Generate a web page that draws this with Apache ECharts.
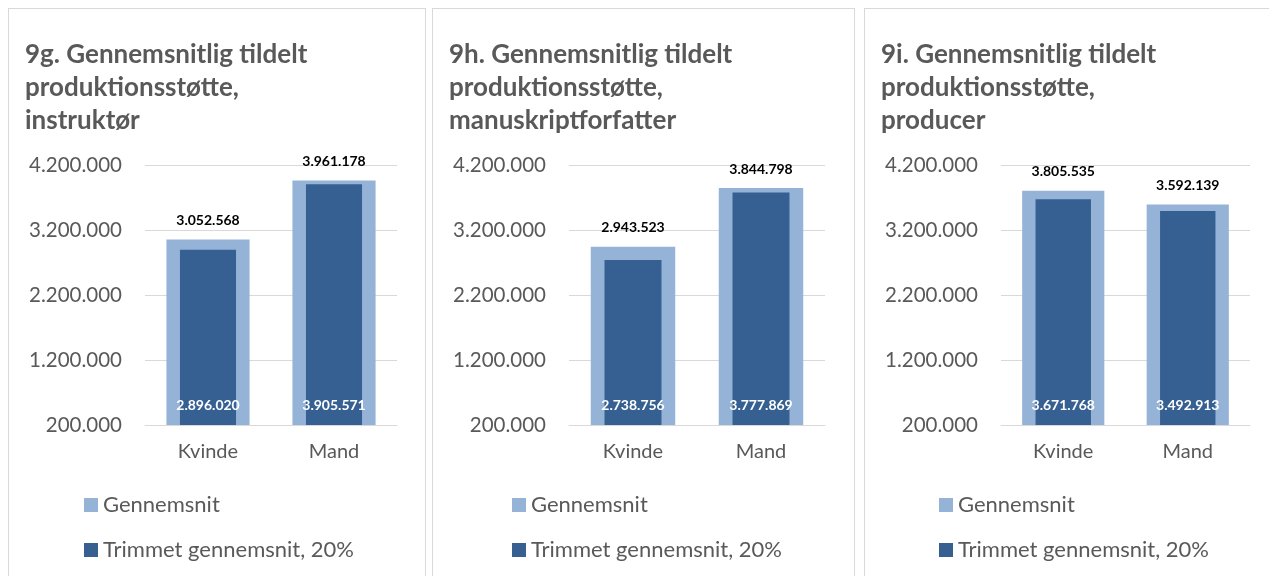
<!DOCTYPE html>
<html>
<head>
<meta charset="utf-8">
<title>Gennemsnitlig tildelt produktionsstøtte</title>
<script src="https://cdn.jsdelivr.net/npm/echarts@6/dist/echarts.min.js"></script>
<style>
    html, body {
        margin: 0;
        padding: 0;
        background: #fff;
        overflow: hidden;
    }
    .panel {
        position: absolute;
        top: 8px;
        height: 600px;
        border: 1px solid #d9d9d9;
        background: #fff;
    }
    .panel div.chart {
        width: 100%;
        height: 100%;
    }
</style>
</head>
<body>
<div class="panel" style="left: 8px; width: 416px;"><div class="chart" id="chartG"></div></div>
<div class="panel" style="left: 432px; width: 421px;"><div class="chart" id="chartH"></div></div>
<div class="panel" style="left: 864px; width: 418px;"><div class="chart" id="chartI"></div></div>

<script>
// data
const categories = ['Kvinde', 'Mand'];
const seriesNames = ['Gennemsnit', 'Trimmet gennemsnit, 20%'];

const titleG = '9g. Gennemsnitlig tildelt\nproduktionsstøtte,\ninstruktør';
const titleH = '9h. Gennemsnitlig tildelt\nproduktionsstøtte,\nmanuskriptforfatter';
const titleI = '9i. Gennemsnitlig tildelt\nproduktionsstøtte,\nproducer';

const gennemsnitG = [3052568, 3961178];
const trimmetG = [2896020, 3905571];
const gennemsnitH = [2943523, 3844798];
const trimmetH = [2738756, 3777869];
const gennemsnitI = [3805535, 3592139];
const trimmetI = [3671768, 3492913];

// y axis: 200.000 .. 4.200.000
const yMin = 200000;
const yMax = 4200000;
const yStep = 1000000;

const FONT = 'Lato';
const GREY = '#595959';
const LIGHT = '#95b3d7';
const DARK = '#366092';

// danish thousands separator
function fmt(v) {
    return String(Math.round(v)).replace(/\B(?=(\d{3})+(?!\d))/g, '.');
}

function drawPanel(id, title, avg, trim, gridWidth, legendLeft) {
    let chart = echarts.init(document.getElementById(id));
    let option = {
        animation: false,
        title: {
            text: title,
            left: 16,
            top: 29,
            padding: 0,
            textStyle: {
                fontFamily: FONT,
                fontWeight: 'bold',
                fontSize: 26,
                lineHeight: 33,
                color: GREY,
            },
        },
        legend: {
            orient: 'vertical',
            left: legendLeft,
            top: 485,
            padding: 0,
            itemWidth: 14,
            itemHeight: 14,
            itemGap: 23,
            icon: 'rect',
            data: seriesNames,
            textStyle: {
                fontFamily: FONT,
                fontSize: 22,
                color: GREY,
            },
        },
        grid: {
            left: 136,
            top: 156,
            width: gridWidth,
            height: 260,
        },
        xAxis: [
            {
                type: 'category',
                data: categories,
                axisTick: { show: false },
                axisLine: { lineStyle: { color: '#d9d9d9', width: 1 } },
                axisLabel: {
                    margin: 17,
                    fontFamily: FONT,
                    fontSize: 20,
                    color: GREY,
                },
            },
            {
                // second axis so the inner bar can be narrower than the outer one
                type: 'category',
                data: categories,
                show: false,
            },
        ],
        yAxis: {
            type: 'value',
            min: yMin,
            max: yMax,
            interval: yStep,
            startValue: yMin,
            axisLine: { show: false },
            axisTick: { show: false },
            splitLine: { lineStyle: { color: '#d9d9d9', width: 1 } },
            axisLabel: {
                margin: 23,
                fontFamily: FONT,
                fontSize: 20.5,
                color: GREY,
                formatter: fmt,
            },
        },
        series: [
            {
                name: seriesNames[0],
                type: 'bar',
                xAxisIndex: 0,
                barWidth: '66%',
                data: avg,
                itemStyle: { color: LIGHT },
                label: {
                    show: true,
                    position: 'top',
                    distance: 12,
                    fontFamily: FONT,
                    fontWeight: 'bold',
                    fontSize: 14,
                    color: '#000',
                    formatter: p => fmt(p.value),
                },
            },
            {
                name: seriesNames[1],
                type: 'bar',
                xAxisIndex: 1,
                barWidth: '44.5%',
                data: trim,
                itemStyle: { color: DARK },
                label: {
                    show: true,
                    position: 'insideBottom',
                    distance: 13,
                    fontFamily: FONT,
                    fontWeight: 'bold',
                    fontSize: 14,
                    color: '#fff',
                    formatter: p => fmt(p.value),
                },
            },
        ],
    };
    chart.setOption(option);
    return chart;
}

drawPanel('chartG', titleG, gennemsnitG, trimmetG, 252, 75);
drawPanel('chartH', titleH, gennemsnitH, trimmetH, 256, 79);
drawPanel('chartI', titleI, gennemsnitI, trimmetI, 249, 74);
</script>
</body>
</html>
